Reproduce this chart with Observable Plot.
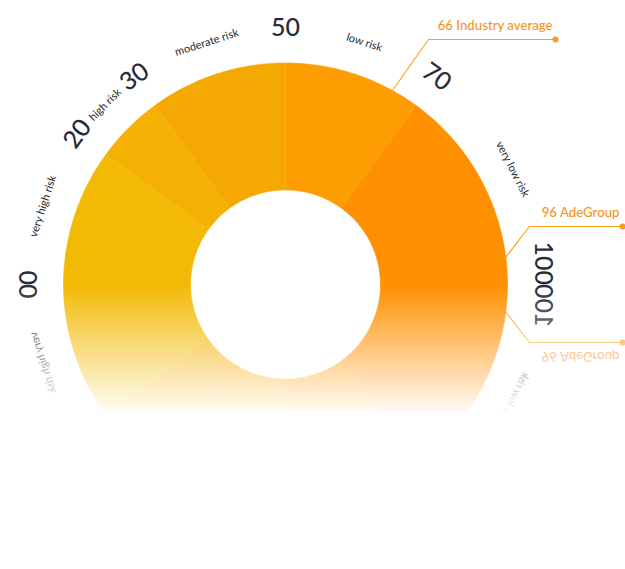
<!DOCTYPE html>
<html><head><meta charset="utf-8">
<script src="https://cdn.jsdelivr.net/npm/d3@7"></script>
<script src="https://cdn.jsdelivr.net/npm/@observablehq/plot@0.6"></script>
<style>html,body{margin:0;padding:0;background:#fff;} #chart{width:625px;height:569px;}</style>
</head><body><div id="chart"></div>
<script>
// ---- data ----
const categories = ["very high risk", "high risk", "moderate risk", "low risk", "very low risk"];
const bounds = [0, 20, 30, 50, 70, 100];
const colors = ["#f2ba05", "#f4b104", "#f6a802", "#fd9d01", "#ff9000"];
const tickValues = [0, 20, 30, 50, 70, 100];
const annotationValues = [66, 96];
const annotationLabels = ["Industry average", "AdeGroup"];

// ---- layout ----
const W = 625, H = 569, CX = 285, CY = H / 2, RPX = 222, INNER = 95 / 222;
const TICK_R = 257 / RPX, LABEL_R = 255 / RPX;
const annLineY = [39, 226], annElbowX = [428, 529], annEndX = [555, 622];
const ang = v => Math.PI * (1 - v / 100);
const pt = (v, r) => ({x: r * Math.cos(ang(v)), y: r * Math.sin(ang(v))});
const px2x = p => (p - CX) / RPX, px2y = p => (CY - p) / RPX;

// ring polygons
const segPts = [];
categories.forEach((c, i) => {
  const a = bounds[i], b = bounds[i + 1], n = Math.max(12, (b - a) * 3);
  for (let k = 0; k <= n; k++) segPts.push({cat: c, ...pt(a + (b - a) * k / n, 1)});
  for (let k = n; k >= 0; k--) segPts.push({cat: c, ...pt(a + (b - a) * k / n, INNER)});
});

const ticks = tickValues.map(v => ({v, ...pt(v, TICK_R), rot: v * 1.8 - 90}));
const labels = categories.map((c, i) => {
  const m = (bounds[i] + bounds[i + 1]) / 2;
  return {c, ...pt(m, LABEL_R), rot: m * 1.8 - 90};
});

const annLines = [], annDots = [], annTexts = [];
annotationValues.forEach((v, i) => {
  const s = pt(v, 1);
  annLines.push({id: i, x: s.x, y: s.y});
  annLines.push({id: i, x: px2x(annElbowX[i]), y: px2y(annLineY[i])});
  annLines.push({id: i, x: px2x(annEndX[i]), y: px2y(annLineY[i])});
  annDots.push({x: px2x(annEndX[i]), y: px2y(annLineY[i])});
  annTexts.push({x: px2x(annEndX[i] - 3), y: px2y(annLineY[i] - 14), t: `${v} ${annotationLabels[i]}`});
});

const font = "Lato, 'Open Sans', sans-serif";
const plot = Plot.plot({
  width: W, height: H,
  margin: 0,
  x: {domain: [-CX / RPX, (W - CX) / RPX], range: [0, W], axis: null},
  y: {domain: [-(H - CY) / RPX, CY / RPX], range: [H, 0], axis: null},
  color: {domain: categories, range: colors},
  style: {background: "white", fontFamily: font, overflow: "visible"},
  marks: [
    Plot.line(annLines, {x: "x", y: "y", z: "id", stroke: "#f9a01c", strokeWidth: 1.1}),
    Plot.line(segPts, {x: "x", y: "y", z: "cat", fill: "cat", stroke: "cat", strokeWidth: 0.6, curve: "linear"}),
    Plot.dot(annDots, {x: "x", y: "y", r: 3, fill: "#f89c22"}),
    Plot.text(annTexts, {x: "x", y: "y", text: "t", textAnchor: "end", fill: "#f7931e", fontSize: 13.2, fontWeight: 500, style: "letter-spacing:0.3px"}),
    Plot.text(ticks.filter(d => d.v > 0 && d.v < 100), {x: "x", y: "y", text: d => String(d.v), rotate: "rot", fontSize: 25, fontWeight: 500, fill: "#272c37", style: "letter-spacing:0.5px"}),
    Plot.text(ticks.filter(d => d.v === 0), {x: "x", y: "y", text: d => String(d.v), rotate: "rot", textAnchor: "start", fontSize: 25, fontWeight: 500, fill: "#272c37"}),
    Plot.text(ticks.filter(d => d.v === 100), {x: "x", y: "y", text: d => String(d.v), rotate: "rot", textAnchor: "end", fontSize: 25, fontWeight: 500, fill: "#272c37", style: "letter-spacing:0.5px"}),
    Plot.text(labels, {x: "x", y: "y", text: "c", rotate: "rot", fontSize: 11, fill: "#23272f", style: "letter-spacing:0.7px"})
  ]
});

// ---- reflection ----
const svg = d3.select(plot);
const defs = svg.append("defs");
const grad = defs.append("linearGradient").attr("id", "fade").attr("gradientUnits", "userSpaceOnUse")
  .attr("x1", 0).attr("x2", 0).attr("y1", CY).attr("y2", 412);
grad.append("stop").attr("offset", 0).attr("stop-color", "#fff").attr("stop-opacity", 0);
grad.append("stop").attr("offset", 1).attr("stop-color", "#fff").attr("stop-opacity", 0.96);
const originals = Array.from(plot.children).filter(n => n.tagName === "g");
const refl = svg.append("g").attr("transform", `translate(0,${H}) scale(1,-1)`);
originals.forEach(n => refl.node().appendChild(n.cloneNode(true)));
svg.append("rect").attr("x", 0).attr("y", CY).attr("width", W).attr("height", 412 - CY).attr("fill", "url(#fade)");
svg.append("rect").attr("x", 0).attr("y", 412).attr("width", W).attr("height", H - 412).attr("fill", "#fff");

document.getElementById("chart").appendChild(plot);
</script>
</body></html>
